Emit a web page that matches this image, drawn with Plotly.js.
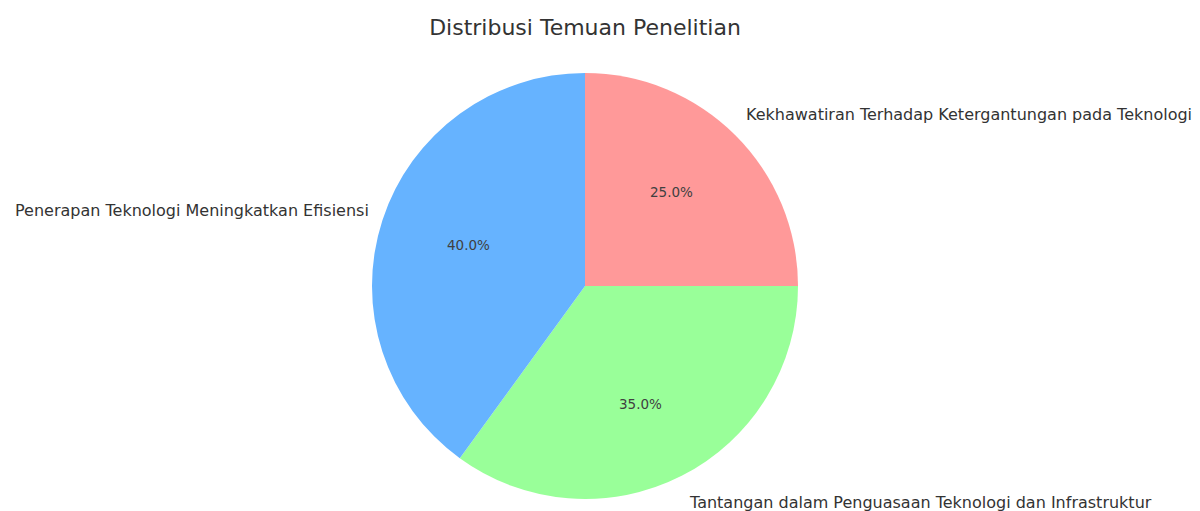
<!DOCTYPE html>
<html>
<head>
<meta charset="utf-8">
<script src="https://cdn.plot.ly/plotly-3.0.1.min.js"></script>
<style>html,body{margin:0;padding:0;background:#fff;}#chart{width:1200px;height:511px;}</style>
</head>
<body>
<div id="chart"></div>
<script>
const categories = [
  "Penerapan Teknologi Meningkatkan Efisiensi",
  "Tantangan dalam Penguasaan Teknologi dan Infrastruktur",
  "Kekhawatiran Terhadap Ketergantungan pada Teknologi"
];
const values = [40, 35, 25];
const colors = ["#66b3ff", "#99ff99", "#ff9999"];
const chartTitle = "Distribusi Temuan Penelitian";

// layout geometry (pixels)
const W = 1200, H = 511;
const cx = 585, cy = 286, R = 213;     // pie center / radius
const rx = 205, ry = 221;              // label ellipse (matches reference aspect)
const startDeg = 90;                   // first slice starts at 12 o'clock, counterclockwise

const total = values.reduce((a, b) => a + b, 0);
const annotations = [];
let acc = 0;
values.forEach((v, i) => {
  const mid = (startDeg + (acc + v / 2) / total * 360) * Math.PI / 180;
  acc += v;
  const c = Math.cos(mid), s = Math.sin(mid);
  const lx = cx + 1.1 * rx * c, ly = cy - 1.1 * ry * s;
  annotations.push({
    x: lx / W, y: 1 - ly / H, xref: "paper", yref: "paper",
    text: categories[i], showarrow: false,
    xanchor: c >= 0 ? "left" : "right", yanchor: "middle",
    font: {family: "DejaVu Sans", size: 16, color: "#333"}
  });
  const px = cx + 0.6 * rx * c, py = cy - 0.6 * ry * s;
  annotations.push({
    x: px / W, y: 1 - py / H, xref: "paper", yref: "paper",
    text: (v / total * 100).toFixed(1) + "%", showarrow: false,
    xanchor: "center", yanchor: "middle",
    font: {family: "DejaVu Sans", size: 13.5, color: "#404040"}
  });
});

// Counterclockwise from 12 o'clock == clockwise from 12 o'clock with the order reversed
const trace = {
  type: "pie",
  labels: categories.slice().reverse(),
  values: values.slice().reverse(),
  sort: false,
  direction: "clockwise",
  rotation: 0,
  marker: {colors: colors.slice().reverse(), line: {width: 0}},
  textinfo: "none",
  hoverinfo: "label+percent",
  showlegend: false,
  domain: {
    x: [(cx - R) / W, (cx + R) / W],
    y: [1 - (cy + R) / H, 1 - (cy - R) / H]
  }
};

const layout = {
  width: W, height: H,
  margin: {l: 0, r: 0, t: 0, b: 0},
  paper_bgcolor: "#fff",
  showlegend: false,
  title: {
    text: chartTitle,
    x: 0.4875, xanchor: "center", y: 1 - 27 / H, yanchor: "middle",
    font: {family: "DejaVu Sans", size: 22, color: "#333"}
  },
  annotations: annotations
};

Plotly.newPlot("chart", [trace], layout, {displayModeBar: false, staticPlot: true});
</script>
</body>
</html>
